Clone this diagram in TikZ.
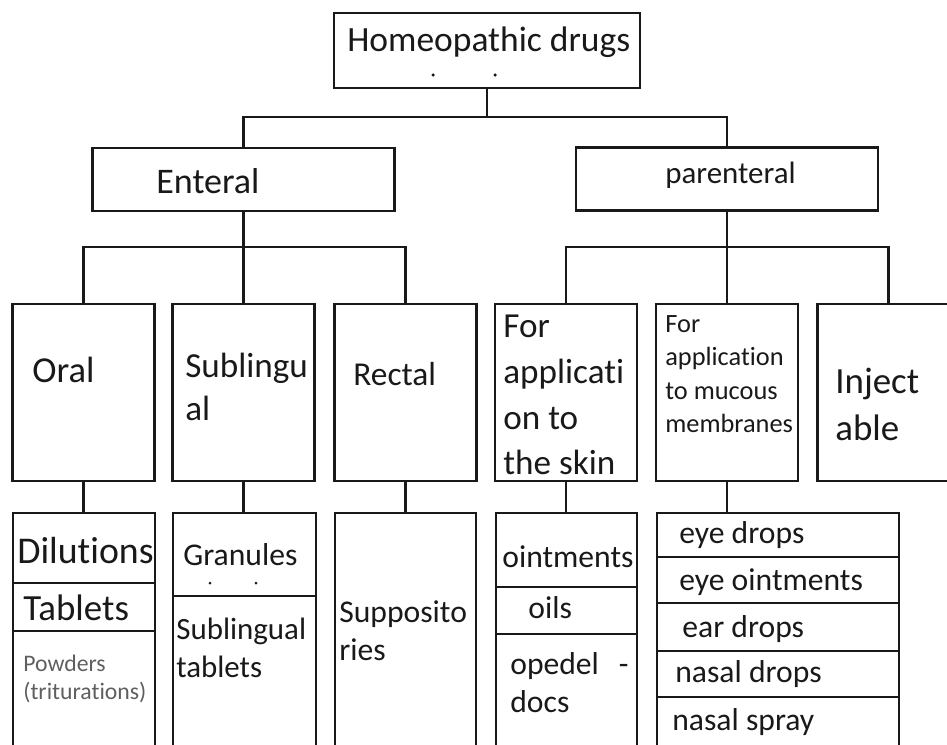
\documentclass[tikz,border=0pt]{standalone}
\usepackage{fontspec}
\setmainfont{Carlito}[Ligatures=CommonOff]
\definecolor{ink}{RGB}{25,25,25}
\definecolor{pencil}{RGB}{95,95,95}

\begin{document}
\begin{tikzpicture}[
  box/.style={rectangle, draw=ink, line width=1.2pt, inner sep=0pt, outer sep=0pt},
  route/.style={box, minimum width=6.04cm, minimum height=1.26cm},
  form/.style={box, minimum width=2.84cm, minimum height=3.54cm},
  lbl/.style={inner sep=0pt, anchor=base west, text=ink},
  lines/.style={inner sep=0pt, anchor=north west, align=left, text=ink},
  link/.style={draw=ink, line width=1.2pt}
]
\useasboundingbox (0,0) rectangle (18.94,14.88);
\clip (0,0) rectangle (18.94,14.88);

\node[box, minimum width=6.12cm, minimum height=1.5cm] (drugs) at (9.74,13.87) {};
\node[lbl, font=\fontsize{20.2}{24}\selectfont] (drugsT) at (6.94,13.84) {Homeopathic drugs};
\fill[ink] (8.66,13.38) circle (0.035);
\fill[ink] (9.90,13.38) circle (0.035);

\node[route] (enteral)    at (4.87,11.29)  {};
\node[route] (parenteral) at (14.54,11.30) {};
\node[lbl, font=\fontsize{20.5}{24}\selectfont] (enteralT) at (3.12,11.02) {Enteral};
\node[lbl, font=\fontsize{17.6}{21}\selectfont] (parenteralT) at (13.30,11.22) {parenteral};

\node[form] (oral)       at (1.67,7.03)  {};
\node[form] (sublingual) at (4.87,7.03)  {};
\node[form] (rectal)     at (8.11,7.03)  {};
\node[form] (skin)       at (11.32,7.03) {};
\node[form] (mucous)     at (14.54,7.03) {};
\node[form] (inject)     at (17.77,7.03) {};

\node[lbl, font=\fontsize{20.8}{24}\selectfont] (oralT) at (0.64,7.24) {Oral};
\node[lines, font=\fontsize{20}{24.5}\selectfont] (sublingualT) at (3.70,7.82) {Sublingu\\al};
\node[lbl, font=\fontsize{19}{23}\selectfont] (rectalT) at (7.06,7.18) {Rectal};
\node[lines, font=\fontsize{20}{26}\selectfont] (skinT) at (10.06,8.58) {For\\applicati\\on to\\the skin};
\node[lines, font=\fontsize{15}{19}\selectfont] (mucousT) at (13.30,8.58) {For\\application\\to mucous\\membranes};
\node[lines, font=\fontsize{21}{26.7}\selectfont] (injectT) at (16.70,7.52) {Inject\\able};

\node[box, minimum width=2.84cm, minimum height=1.40cm] (dil)  at (1.68,3.92) {};
\node[box, minimum width=2.84cm, minimum height=0.96cm] (tab)  at (1.68,2.74) {};
\node[box, minimum width=2.84cm, minimum height=2.76cm] (pow)  at (1.68,0.88) {};
\node[lbl, font=\fontsize{21.5}{25}\selectfont] (dilT) at (0.34,3.62) {Dilutions};
\node[lbl, font=\fontsize{21}{25}\selectfont] (tabT) at (0.46,2.48) {Tablets};
\node[lines, text=pencil, font=\fontsize{13.5}{16}\selectfont] (powT) at (0.46,1.78) {Powders\\(triturations)};

\node[box, minimum width=2.86cm, minimum height=1.66cm] (gran) at (4.89,3.79) {};
\node[box, minimum width=2.86cm, minimum height=3.46cm] (stab) at (4.89,1.23) {};
\node[lbl, font=\fontsize{18}{22}\selectfont] (granT) at (3.66,3.58) {Granules};
\fill[ink] (4.20,3.22) circle (0.03);
\fill[ink] (5.12,3.22) circle (0.03);
\node[lines, font=\fontsize{17.6}{21.6}\selectfont] (stabT) at (3.52,2.52) {Sublingual\\tablets};

\node[box, minimum width=2.82cm, minimum height=5.12cm] (supp) at (8.11,2.06) {};
\node[lines, font=\fontsize{18}{22}\selectfont] (suppT) at (6.78,2.88) {Supposito\\ries};

\node[box, minimum width=2.82cm, minimum height=1.48cm] (oint) at (11.33,3.88) {};
\node[box, minimum width=2.82cm, minimum height=0.94cm] (oil)  at (11.33,2.67) {};
\node[box, minimum width=2.82cm, minimum height=2.70cm] (oped) at (11.33,0.85) {};
\node[lbl, font=\fontsize{18}{22}\selectfont] (ointT) at (10.04,3.54) {ointments};
\node[lbl, font=\fontsize{18}{22}\selectfont] (oilT) at (10.56,2.52) {oils};
\node[lines, font=\fontsize{18}{21.6}\selectfont] (opedT) at (10.20,1.84) {opedel\hspace{0.4cm}-\\docs};

\node[box, minimum width=4.84cm, minimum height=0.88cm] (eyeA) at (15.56,4.18) {};
\node[box, minimum width=4.84cm, minimum height=0.92cm] (eyeB) at (15.56,3.28) {};
\node[box, minimum width=4.84cm, minimum height=0.96cm] (ear)  at (15.56,2.34) {};
\node[box, minimum width=4.84cm, minimum height=0.92cm] (nasA) at (15.56,1.40) {};
\node[box, minimum width=4.84cm, minimum height=1.44cm] (nasB) at (15.56,0.22) {};
\node[lbl, font=\fontsize{18}{22}\selectfont] (eyeAT) at (13.58,4.02) {eye drops};
\node[lbl, font=\fontsize{18}{22}\selectfont] (eyeBT) at (13.58,3.08) {eye ointments};
\node[lbl, font=\fontsize{18}{22}\selectfont] (earT)  at (13.64,2.14) {ear drops};
\node[lbl, font=\fontsize{18}{22}\selectfont] (nasAT) at (13.50,1.24) {nasal drops};
\node[lbl, font=\fontsize{18}{22}\selectfont] (nasBT) at (13.44,0.28) {nasal spray};

\coordinate (top) at (9.74,12.54);
\coordinate (ent) at (4.87,9.94);
\coordinate (par) at (14.54,9.94);

\draw[link] (drugs.south) -- (top);
\draw[link] (enteral.north) |- (top) -| (parenteral.north);
\draw[link] (enteral.south) -- (sublingual.north);
\draw[link] (oral.north) |- (ent) -| (rectal.north);
\draw[link] (parenteral.south) -- (mucous.north);
\draw[link] (skin.north) |- (par) -| (inject.north);

\draw[link] (oral.south) -- (oral.south |- dil.north);
\draw[link] (sublingual.south) -- (sublingual.south |- gran.north);
\draw[link] (rectal.south) -- (rectal.south |- supp.north);
\draw[link] (skin.south) -- (skin.south |- oint.north);
\draw[link] (mucous.south) -- (mucous.south |- eyeA.north);

\end{tikzpicture}
\end{document}
